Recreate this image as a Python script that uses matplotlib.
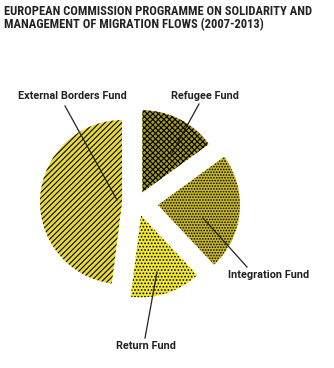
import matplotlib
matplotlib.use("Agg")
import matplotlib.pyplot as plt

plt.rcParams['hatch.linewidth'] = 0.8

funds = ["Refugee Fund", "Integration Fund", "Return Fund", "External Borders Fund"]
shares = [15, 23, 14, 48]
colors = ["#a89c1c", "#c9ba26", "#f5ea2e", "#e8db36"]
hatches = ["xxxxxx", "......", ".....", "//////"]
explode = [12, 21, 13, 15]

title = "EUROPEAN COMMISSION PROGRAMME ON SOLIDARITY AND\nMANAGEMENT OF MIGRATION FLOWS (2007-2013)"

W, H = 334, 368
fig = plt.figure(figsize=(W / 100, H / 100), dpi=100)
ax = fig.add_axes([0, 0, 1, 1])

cx, cy, r = 137, H - 203, 82
wedges, _ = ax.pie(shares, colors=colors, explode=explode, startangle=90,
                   counterclock=False, radius=r, center=(cx, cy),
                   wedgeprops=dict(linewidth=0, edgecolor="black"))
for w, h in zip(wedges, hatches):
    w.set_hatch(h)
    w.set_edgecolor("black")
    w.set_linewidth(0)

ax.set_xlim(0, W)
ax.set_ylim(0, H)
ax.set_aspect("equal")
ax.axis("off")

fam_title = ['Roboto Condensed', 'Roboto', 'DejaVu Sans']
fam_lab = ['Roboto', 'DejaVu Sans']
fig.text(4 / W, 1 - 5 / H, title, ha="left", va="top", fontsize=9.0,
         fontweight="bold", family=fam_title, color="#222222", linespacing=1.0)

labels_pos = {
    "External Borders Fund": (72, 96),
    "Refugee Fund": (205, 96),
    "Integration Fund": (269, 275),
    "Return Fund": (146, 346),
}
lines = {
    "External Borders Fund": ((65, 106), (117, 200)),
    "Refugee Fund": ((199, 104), (172, 153)),
    "Integration Fund": ((203, 218), (247, 267)),
    "Return Fund": ((157, 272), (145, 338)),
}
for name in funds:
    x, y = labels_pos[name]
    ax.text(x, H - y, name, ha="center", va="center", fontsize=7.8,
            fontweight="bold", family=fam_lab, color="#222222")
    (x1, y1), (x2, y2) = lines[name]
    ax.plot([x1, x2], [H - y1, H - y2], color="#222222", lw=0.9)

fig.savefig("out.png", dpi=100, facecolor="white")
